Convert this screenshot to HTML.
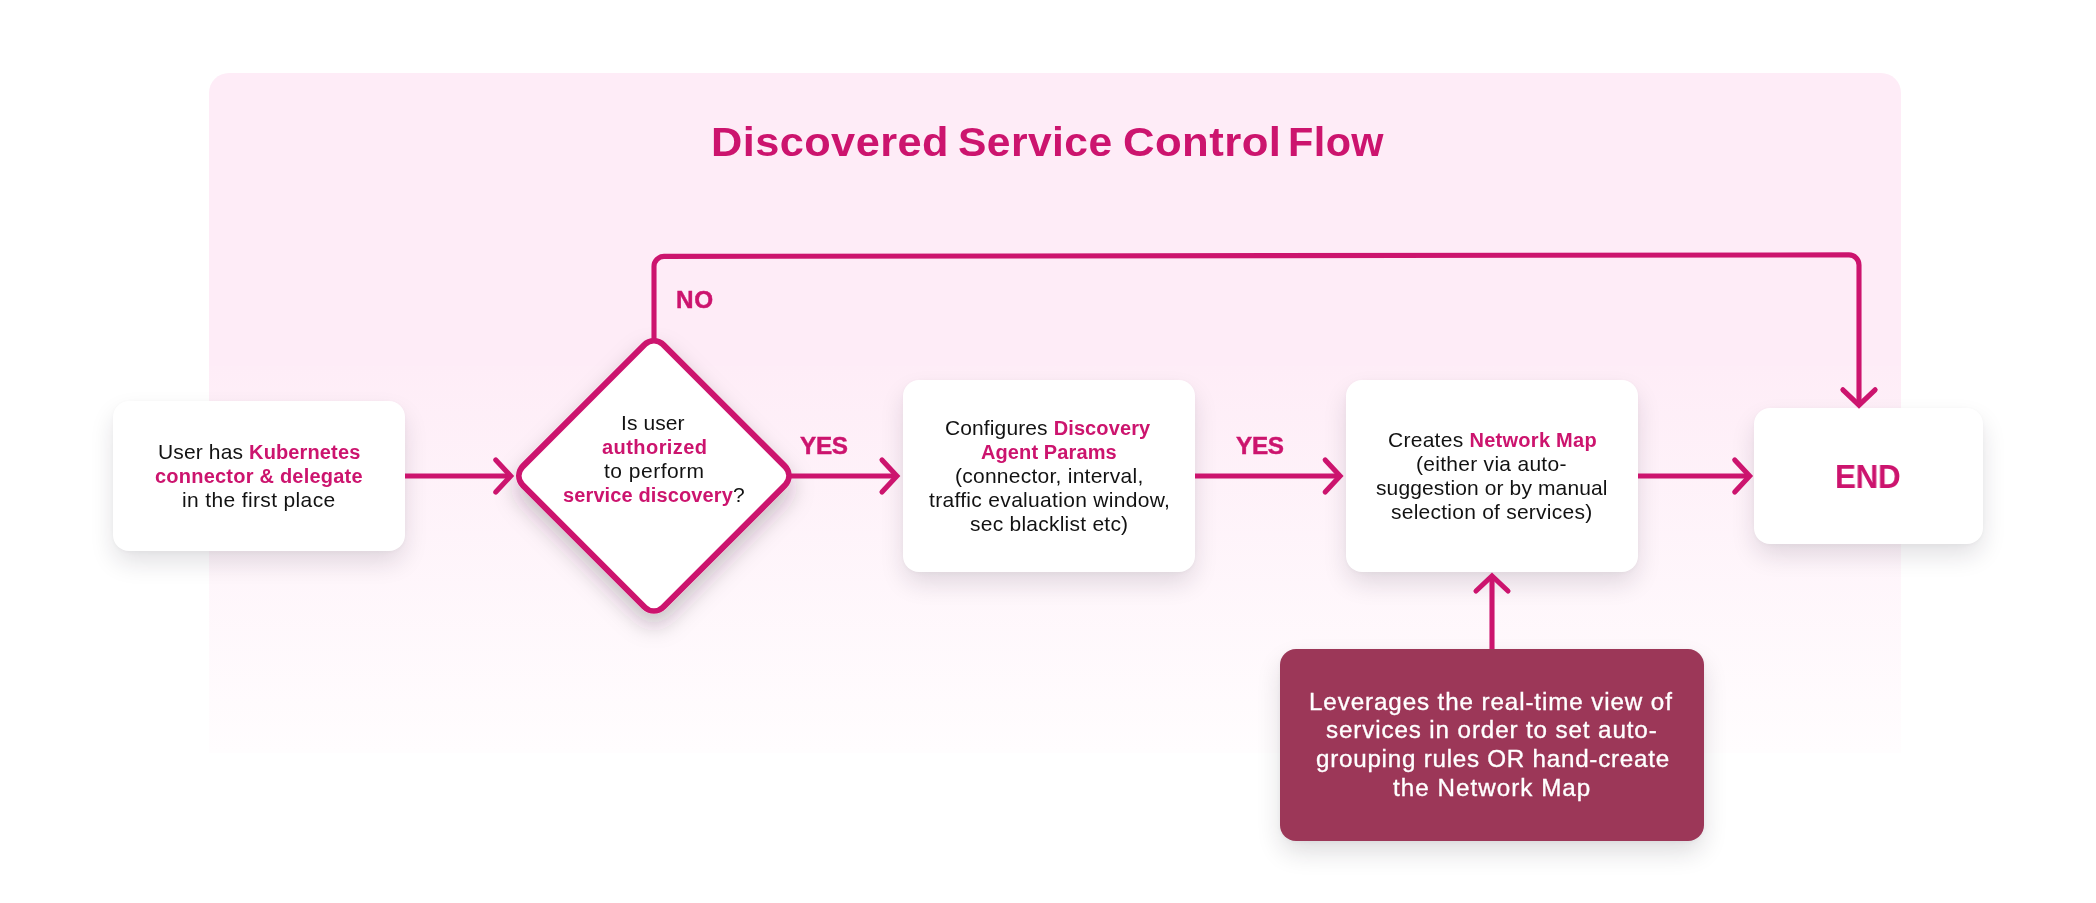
<!DOCTYPE html>
<html>
<head>
<meta charset="utf-8">
<title>Discovered Service Control Flow</title>
<style>
  html, body { margin: 0; padding: 0; }
  body {
    width: 2096px; height: 903px; position: relative; overflow: hidden;
    background: #ffffff;
    font-family: "Liberation Sans", sans-serif;
    color: #121212;
  }
  .panel-top {
    position: absolute; left: 209px; top: 73px; width: 1692px; height: 294px;
    border-radius: 20px 20px 0 0; background: #feecf7;
  }
  .panel-fade {
    position: absolute; left: 209px; top: 366px; width: 1692px; height: 387px;
    background: linear-gradient(to bottom, #feedf7 0%, #fffdfe 100%);
  }
  .box {
    position: absolute; background: #ffffff; border-radius: 16px;
    box-shadow: 0 12px 26px -2px rgba(30, 24, 40, 0.14), 0 1px 4px rgba(30, 24, 40, 0.03);
  }
  .dark {
    position: absolute; background: #9c3758; border-radius: 16px;
    box-shadow: 0 12px 26px -2px rgba(30, 24, 40, 0.16), 0 1px 4px rgba(30, 24, 40, 0.04);
  }
  svg.lines { position: absolute; left: 0; top: 0; }
  .ln { position: absolute; white-space: nowrap; will-change: transform; }
  .ln b { color: #cc146e; font-weight: bold; }
  .lb b { -webkit-text-stroke: 0.45px #cc146e; }
  .w { color: #ffffff; -webkit-text-stroke: 0.35px #ffffff; }
</style>
</head>
<body>
  <div class="panel-top"></div>
  <div class="panel-fade"></div>

  <div class="box" style="left:113px; top:401px; width:292px; height:150px;"></div>
  <div class="box" style="left:903px; top:380px; width:292px; height:192px;"></div>
  <div class="box" style="left:1346px; top:380px; width:292px; height:192px;"></div>
  <div class="box" style="left:1754px; top:408px; width:229px; height:136px;"></div>
  <div class="dark" style="left:1280px; top:649px; width:423.5px; height:191.5px;"></div>

  <svg class="lines" width="2096" height="903" viewBox="0 0 2096 903">
    <defs>
      <filter id="ds" filterUnits="userSpaceOnUse" x="450" y="280" width="410" height="420">
        <feDropShadow dx="0" dy="12" stdDeviation="11" flood-color="#2a2030" flood-opacity="0.26"/>
      </filter>
    </defs>
    <!-- diamond shadow -->
    <g filter="url(#ds)"><rect x="551.4" y="373.35" width="205" height="205" rx="17" ry="17" transform="rotate(45 653.9 475.85)" fill="#ffffff"/></g>
    <g fill="none" stroke="#cc146e" stroke-width="5.1" stroke-linecap="round" stroke-linejoin="miter">
      <!-- NO path -->
      <path stroke-linecap="butt" d="M654 342 V266.4 A10 10 0 0 1 664 256.4 L1849 254.9 A10 10 0 0 1 1859 264.9 V405.2"/>
      <path d="M1842.9 389.8 L1859 405.2 L1875.1 389.8"/>
      <!-- arrow 1 -->
      <path stroke-linecap="butt" d="M405 476 H510.7"/>
      <path d="M495.8 459.9 L510.7 476 L495.8 492.1"/>
      <!-- arrow 2 -->
      <path stroke-linecap="butt" d="M789 476 H896.9"/>
      <path d="M882 459.9 L896.9 476 L882 492.1"/>
      <!-- arrow 3 -->
      <path stroke-linecap="butt" d="M1195 476 H1340.1"/>
      <path d="M1325.2 459.9 L1340.1 476 L1325.2 492.1"/>
      <!-- arrow 4 -->
      <path stroke-linecap="butt" d="M1638 476 H1749.65"/>
      <path d="M1734.75 459.9 L1749.65 476 L1734.75 492.1"/>
      <!-- up arrow -->
      <path stroke-linecap="butt" d="M1492 649 V576"/>
      <path d="M1476 591 L1492 576 L1508 591"/>
    </g>
    <!-- diamond outline: outer pink, inner white -->
    <rect x="551.4" y="373.35" width="205" height="205" rx="17" ry="17" transform="rotate(45 653.9 475.85)" fill="#cc146e"/>
    <rect x="557.55" y="379.5" width="192.7" height="192.7" rx="9.5" ry="9.5" transform="rotate(45 653.9 475.85)" fill="#ffffff"/>
  </svg>

<div class="ln" id="a1" style="left:158.10px;top:438.82px;font-size:21px;line-height:25.20px;letter-spacing:0.132px">User has <b style="font-size:20px">Kubernetes</b></div>
<div class="ln" id="a2" style="left:154.75px;top:463.77px;font-size:21px;line-height:24.00px;letter-spacing:0.221px"><b style="font-size:20px">connector &amp; delegate</b></div>
<div class="ln" id="a3" style="left:182.33px;top:486.82px;font-size:21px;line-height:25.20px;letter-spacing:0.360px">in the first place</div>
<div class="ln" id="d1" style="left:621.00px;top:410.12px;font-size:21px;line-height:25.20px;letter-spacing:0.083px">Is user</div>
<div class="ln" id="d2" style="left:601.61px;top:434.77px;font-size:21px;line-height:24.00px;letter-spacing:0.442px"><b style="font-size:20px">authorized</b></div>
<div class="ln" id="d3" style="left:604.18px;top:457.72px;font-size:21px;line-height:25.20px;letter-spacing:0.488px">to perform</div>
<div class="ln" id="d4" style="left:562.70px;top:481.72px;font-size:21px;line-height:25.20px;letter-spacing:0.118px"><b style="font-size:20px">service discovery</b>?</div>
<div class="ln" id="b1" style="left:945.48px;top:414.87px;font-size:21px;line-height:25.20px;letter-spacing:0.115px">Configures <b style="font-size:20px">Discovery</b></div>
<div class="ln" id="b2" style="left:981.33px;top:439.67px;font-size:21px;line-height:24.00px;letter-spacing:0.106px"><b style="font-size:20px">Agent Params</b></div>
<div class="ln" id="b3" style="left:955.17px;top:462.72px;font-size:21px;line-height:25.20px;letter-spacing:0.251px">(connector, interval,</div>
<div class="ln" id="b4" style="left:929.18px;top:486.72px;font-size:21px;line-height:25.20px;letter-spacing:0.315px">traffic evaluation window,</div>
<div class="ln" id="b5" style="left:969.83px;top:510.72px;font-size:21px;line-height:25.20px;letter-spacing:0.239px">sec blacklist etc)</div>
<div class="ln" id="c1" style="left:1387.98px;top:426.87px;font-size:21px;line-height:25.20px;letter-spacing:0.266px">Creates <b style="font-size:20px">Network Map</b></div>
<div class="ln" id="c2" style="left:1416.47px;top:450.72px;font-size:21px;line-height:25.20px;letter-spacing:0.282px">(either via auto-</div>
<div class="ln" id="c3" style="left:1376.33px;top:474.72px;font-size:21px;line-height:25.20px;letter-spacing:0.122px">suggestion or by manual</div>
<div class="ln" id="c4" style="left:1390.83px;top:498.72px;font-size:21px;line-height:25.20px;letter-spacing:0.241px">selection of services)</div>
<div class="ln" id="e1" style="left:1835.37px;top:457.74px;font-size:21px;line-height:39.00px;letter-spacing:-0.400px;transform-origin:0 0;transform:scaleX(0.9693)"><b style="font-size:32.5px">END</b></div>
<div class="ln w" id="k1" style="left:1309.08px;top:686.59px;font-size:24.2px;line-height:29.04px;letter-spacing:0.893px">Leverages the real-time view of</div>
<div class="ln w" id="k2" style="left:1326.22px;top:715.49px;font-size:24.2px;line-height:29.04px;letter-spacing:0.881px">services in order to set auto-</div>
<div class="ln w" id="k3" style="left:1315.78px;top:744.39px;font-size:24.2px;line-height:29.04px;letter-spacing:0.752px">grouping rules OR hand-create</div>
<div class="ln w" id="k4" style="left:1393.40px;top:773.29px;font-size:24.2px;line-height:29.04px;letter-spacing:1.031px">the Network Map</div>
<div class="ln lb" id="n1" style="left:676.15px;top:284.75px;font-size:21px;line-height:29.16px;letter-spacing:0.614px"><b style="font-size:24.3px">NO</b></div>
<div class="ln lb" id="y1" style="left:800.32px;top:430.90px;font-size:21px;line-height:29.16px;letter-spacing:-0.276px"><b style="font-size:24.3px">YES</b></div>
<div class="ln lb" id="y2" style="left:1236.32px;top:430.90px;font-size:21px;line-height:29.16px;letter-spacing:-0.276px"><b style="font-size:24.3px">YES</b></div>
<div class="ln" id="t1" style="left:711.00px;top:117.94px;font-size:21px;line-height:48.00px;letter-spacing:0.400px;transform-origin:0 0;transform:scaleX(1.0829)"><b style="font-size:40px">Discovered</b></div>
<div class="ln" id="t2" style="left:958.05px;top:117.94px;font-size:21px;line-height:48.00px;letter-spacing:0.400px;transform-origin:0 0;transform:scaleX(1.0646)"><b style="font-size:40px">Service</b></div>
<div class="ln" id="t3" style="left:1122.81px;top:117.94px;font-size:21px;line-height:48.00px;letter-spacing:0.400px;transform-origin:0 0;transform:scaleX(1.0923)"><b style="font-size:40px">Control</b></div>
<div class="ln" id="t4" style="left:1287.97px;top:117.94px;font-size:21px;line-height:48.00px;letter-spacing:0.400px;transform-origin:0 0;transform:scaleX(1.0353)"><b style="font-size:40px">Flow</b></div>
</body>
</html>
